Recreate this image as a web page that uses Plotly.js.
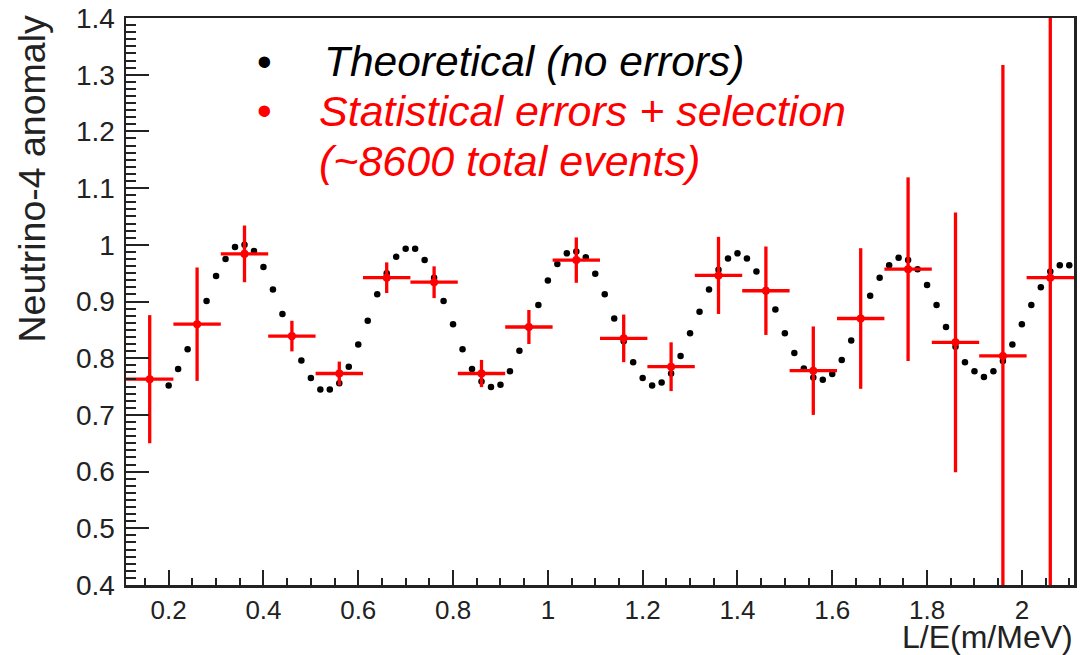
<!DOCTYPE html>
<html>
<head>
<meta charset="utf-8">
<script src="https://cdn.plot.ly/plotly-3.0.1.min.js"></script>
<style>html,body{margin:0;padding:0;background:#fff;}#chart{width:1080px;height:655px;}</style>
</head>
<body>
<div id="chart"></div>
<script>
// Theoretical curve (no errors)
const theoryX = [0.20,0.22,0.24,0.26,0.28,0.30,0.32,0.34,0.36,0.38,0.40,0.42,0.44,0.46,0.48,0.50,0.52,0.54,0.56,0.58,
  0.60,0.62,0.64,0.66,0.68,0.70,0.72,0.74,0.76,0.78,0.80,0.82,0.84,0.86,0.88,0.90,0.92,0.94,0.96,0.98,
  1.00,1.02,1.04,1.06,1.08,1.10,1.12,1.14,1.16,1.18,1.20,1.22,1.24,1.26,1.28,1.30,1.32,1.34,1.36,1.38,
  1.40,1.42,1.44,1.46,1.48,1.50,1.52,1.54,1.56,1.58,1.60,1.62,1.64,1.66,1.68,1.70,1.72,1.74,1.76,1.78,
  1.80,1.82,1.84,1.86,1.88,1.90,1.92,1.94,1.96,1.98,2.00,2.02,2.04,2.06,2.08,2.10];
const theoryY = [0.752,0.781,0.816,0.860,0.901,0.945,0.975,0.996,1.000,0.989,0.961,0.921,0.878,0.838,0.796,0.765,0.745,0.745,0.756,0.785,
  0.824,0.866,0.913,0.950,0.979,0.993,0.993,0.973,0.942,0.901,0.860,0.816,0.781,0.759,0.749,0.753,0.777,0.813,0.855,0.894,
  0.937,0.966,0.985,0.988,0.978,0.949,0.913,0.870,0.830,0.793,0.765,0.752,0.757,0.773,0.804,0.844,0.882,0.921,0.956,0.976,
  0.985,0.976,0.953,0.920,0.886,0.844,0.809,0.782,0.766,0.762,0.772,0.797,0.831,0.870,0.910,0.942,0.964,0.977,0.973,0.957,
  0.929,0.894,0.855,0.820,0.793,0.777,0.767,0.777,0.795,0.824,0.860,0.894,0.925,0.953,0.964,0.964];

// Statistical errors + selection (binned)
const binCenters = [0.16,0.26,0.36,0.46,0.56,0.66,0.76,0.86,0.96,1.06,1.16,1.26,1.36,1.46,1.56,1.66,1.76,1.86,1.96,2.06];
const binValues  = [0.763,0.860,0.984,0.839,0.773,0.942,0.934,0.773,0.855,0.973,0.835,0.785,0.946,0.919,0.778,0.870,0.957,0.828,0.804,0.942];
const binErrors  = [0.113,0.100,0.050,0.027,0.021,0.027,0.028,0.024,0.030,0.040,0.042,0.043,0.068,0.078,0.078,0.124,0.162,0.229,0.513,0.600];
const binHalfWidth = 0.05;

const xTickLabels = ['0.2','0.4','0.6','0.8','1','1.2','1.4','1.6','1.8','2'];
const yTickLabels = ['0.4','0.5','0.6','0.7','0.8','0.9','1','1.1','1.2','1.3','1.4'];

const FONT = 'Liberation Sans, Arial, Helvetica, sans-serif';
const AXC = '#222';

const traces = [
  {
    x: theoryX, y: theoryY, type: 'scatter', mode: 'markers',
    marker: {color: '#000', size: 6.5}, hoverinfo: 'x+y', showlegend: false
  },
  {
    x: binCenters, y: binValues, type: 'scatter', mode: 'markers',
    marker: {color: '#ff0000', size: 8},
    error_y: {type: 'data', array: binErrors, visible: true, color: '#ff0000', thickness: 3.3, width: 0},
    error_x: {type: 'constant', value: binHalfWidth, visible: true, color: '#ff0000', thickness: 3.3, width: 0},
    showlegend: false
  }
];

const xTickVals = xTickLabels.map(Number);
const yTickVals = yTickLabels.map(Number);

const px = v => (v - 126) / 948;
const py = v => (585 - v) / 567;

const layout = {
  width: 1080, height: 655,
  margin: {l: 126, r: 6, t: 18, b: 70},
  paper_bgcolor: '#fff', plot_bgcolor: '#fff',
  showlegend: false,
  font: {family: FONT, color: AXC},
  xaxis: {
    range: [0.11, 2.11], showgrid: false, zeroline: false,
    tickmode: 'array', tickvals: xTickVals, ticktext: xTickLabels,
    ticks: 'inside', ticklen: 15, tickwidth: 2, tickcolor: AXC,
    showline: true, mirror: true, linecolor: AXC, linewidth: 2.5,
    tickfont: {family: FONT, size: 26, color: '#222'},
    ticklabelstandoff: 0,
    minor: {dtick: 0.05, tick0: 0, ticks: 'inside', ticklen: 7, tickwidth: 2, tickcolor: AXC, showgrid: false}
  },
  yaxis: {
    range: [0.4, 1.4], showgrid: false, zeroline: false,
    tickmode: 'array', tickvals: yTickVals, ticktext: yTickLabels,
    ticks: 'inside', ticklen: 23, tickwidth: 2, tickcolor: AXC,
    showline: true, mirror: true, linecolor: AXC, linewidth: 2.5,
    tickfont: {family: FONT, size: 28, color: '#222'},
    ticklabelstandoff: 3,
    minor: {dtick: 0.0125, tick0: 0, ticks: 'inside', ticklen: 10, tickwidth: 2, tickcolor: AXC, showgrid: false}
  },
  annotations: [
    {text: 'Neutrino-4 anomaly', textangle: -90, xref: 'paper', yref: 'paper',
     x: px(31), y: py(14), xanchor: 'center', yanchor: 'top', showarrow: false,
     font: {family: FONT, size: 37.5, color: '#222'}},
    {text: 'L/E(m/MeV)', xref: 'paper', yref: 'paper', x: 1.0, y: py(637),
     xanchor: 'right', yanchor: 'middle', showarrow: false, borderpad: 0,
     font: {family: FONT, size: 32, color: '#222'}},
    {text: '•', xref: 'paper', yref: 'paper', x: px(264), y: py(61), xanchor: 'center', yanchor: 'middle',
     showarrow: false, font: {family: FONT, size: 42, color: '#000'}},
    {text: '•', xref: 'paper', yref: 'paper', x: px(264), y: py(110), xanchor: 'center', yanchor: 'middle',
     showarrow: false, font: {family: FONT, size: 42, color: '#ff0000'}},
    {text: '<i>Theoretical (no errors)</i>', xref: 'paper', yref: 'paper', x: px(322), y: py(61),
     xanchor: 'left', yanchor: 'middle', showarrow: false, font: {family: FONT, size: 42.5, color: '#000'}},
    {text: '<i>Statistical errors + selection</i>', xref: 'paper', yref: 'paper', x: px(317), y: py(111),
     xanchor: 'left', yanchor: 'middle', showarrow: false, font: {family: FONT, size: 43, color: '#ff0000'}},
    {text: '<i>(~8600 total events)</i>', xref: 'paper', yref: 'paper', x: px(317), y: py(161),
     xanchor: 'left', yanchor: 'middle', showarrow: false, font: {family: FONT, size: 43, color: '#ff0000'}}
  ]
};

Plotly.newPlot('chart', traces, layout, {staticPlot: true, displayModeBar: false});
</script>
</body>
</html>
